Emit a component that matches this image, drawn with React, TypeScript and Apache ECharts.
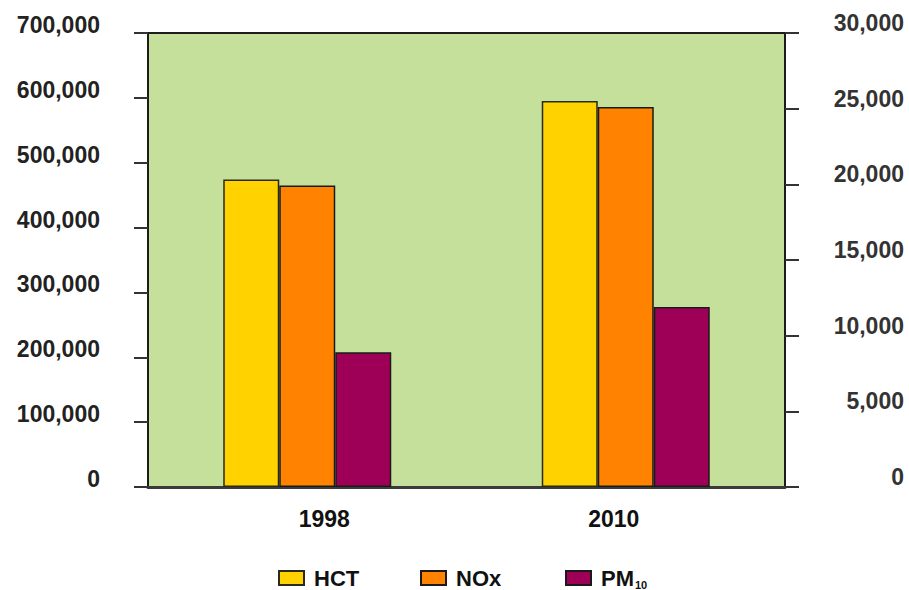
import React, { useEffect, useRef } from "react";
import * as echarts from "echarts";

const categories = ["1998", "2010"];
const hctValues = [474000, 595000];
const noxValues = [465000, 586000];
const pm10Values = [8900, 11900];
const leftTicks = [0, 700000, 100000]; // min, max, interval
const rightTicks = [0, 30000, 5000];

const FONT = "'Liberation Sans', Arial, sans-serif";

export default function App() {
  const ref = useRef<HTMLDivElement>(null);
  useEffect(() => {
    if (!ref.current) return;
    const chart = echarts.init(ref.current, null, { renderer: "svg" });
    const fmt = (v: number) => v.toLocaleString("en-US");
    const legendText = {
      fontFamily: FONT,
      fontSize: 22,
      fontWeight: "bold",
      color: "#111",
      lineHeight: 24,
      padding: [0, 0, 0, 5],
      rich: {
        a: { fontFamily: FONT, fontSize: 22, fontWeight: "bold", color: "#111", lineHeight: 24 },
        s: { fontFamily: FONT, fontSize: 11, fontWeight: "bold", color: "#111", lineHeight: 24, verticalAlign: "bottom", padding: [6, 0, 0, 1] },
      },
    };
    const mkLegend = (name: string, left: number) => ({
      data: [name],
      left,
      top: 566,
      padding: 0,
      itemWidth: 25,
      itemHeight: 14,
      icon: "rect",
      textStyle: legendText,
      formatter: (n: string) => (n === "PM10" ? "{a|PM}{s|10}" : n),
    });
    chart.setOption({
      animation: false,
      backgroundColor: "#ffffff",
      textStyle: { fontFamily: FONT },
      legend: [mkLegend("HCT", 278), mkLegend("NOx", 420), mkLegend("PM10", 565)],
      grid: {
        left: 148,
        right: 124,
        top: 33,
        bottom: 103,
        show: true,
        backgroundColor: "#c5e09b",
        borderColor: "#1c1c1c",
        borderWidth: 2,
      },
      xAxis: {
        type: "category",
        data: categories,
        axisLine: { show: true, lineStyle: { color: "#3a3a3a", width: 3 } },
        axisTick: { show: false },
        axisLabel: {
          margin: 20,
          formatter: (v: string, i: number) => (i === 0 ? "{l|" + v + "}" : "{r|" + v + "}"),
          rich: {
            l: { fontFamily: FONT, fontSize: 23, fontWeight: "bold", color: "#111", padding: [0, 0, 0, 34] },
            r: { fontFamily: FONT, fontSize: 23, fontWeight: "bold", color: "#111", padding: [0, 24, 0, 0] },
          },
        },
      },
      yAxis: [
        {
          type: "value",
          min: leftTicks[0],
          max: leftTicks[1],
          interval: leftTicks[2],
          position: "left",
          splitLine: { show: false },
          axisLine: { show: true, lineStyle: { color: "#1c1c1c", width: 2 } },
          axisTick: { show: true, length: 14, lineStyle: { color: "#333", width: 2 } },
          axisLabel: {
            fontFamily: FONT,
            fontSize: 23,
            fontWeight: "bold",
            color: "#222",
            margin: 48,
            verticalAlign: "bottom",
            lineHeight: 16,
            formatter: fmt,
          },
        },
        {
          type: "value",
          min: rightTicks[0],
          max: rightTicks[1],
          interval: rightTicks[2],
          position: "right",
          splitLine: { show: false },
          axisLine: { show: true, lineStyle: { color: "#1c1c1c", width: 2 } },
          axisTick: { show: true, length: 14, lineStyle: { color: "#333", width: 2 } },
          axisLabel: {
            fontFamily: FONT,
            fontSize: 23,
            fontWeight: "bold",
            color: "#333",
            margin: 119,
            align: "right",
            verticalAlign: "bottom",
            lineHeight: 20,
            formatter: fmt,
          },
        },
      ],
      series: [
        {
          name: "HCT",
          type: "bar",
          data: hctValues,
          yAxisIndex: 0,
          barWidth: 56,
          barGap: "0%",
          itemStyle: { color: "#ffd200", borderColor: "#2a2a1a", borderWidth: 1.5 },
        },
        {
          name: "NOx",
          type: "bar",
          data: noxValues,
          yAxisIndex: 0,
          barWidth: 56,
          barGap: "0%",
          itemStyle: { color: "#ff8200", borderColor: "#1a1a1a", borderWidth: 1.5 },
        },
        {
          name: "PM10",
          type: "bar",
          data: pm10Values,
          yAxisIndex: 1,
          barWidth: 56,
          barGap: "0%",
          itemStyle: { color: "#9e0058", borderColor: "#1a1a1a", borderWidth: 1.5 },
        },
      ],
    });
    return () => chart.dispose();
  }, []);
  return <div ref={ref} style={{ width: 909, height: 590, position: "absolute", left: 0, top: 0 }} />;
}
